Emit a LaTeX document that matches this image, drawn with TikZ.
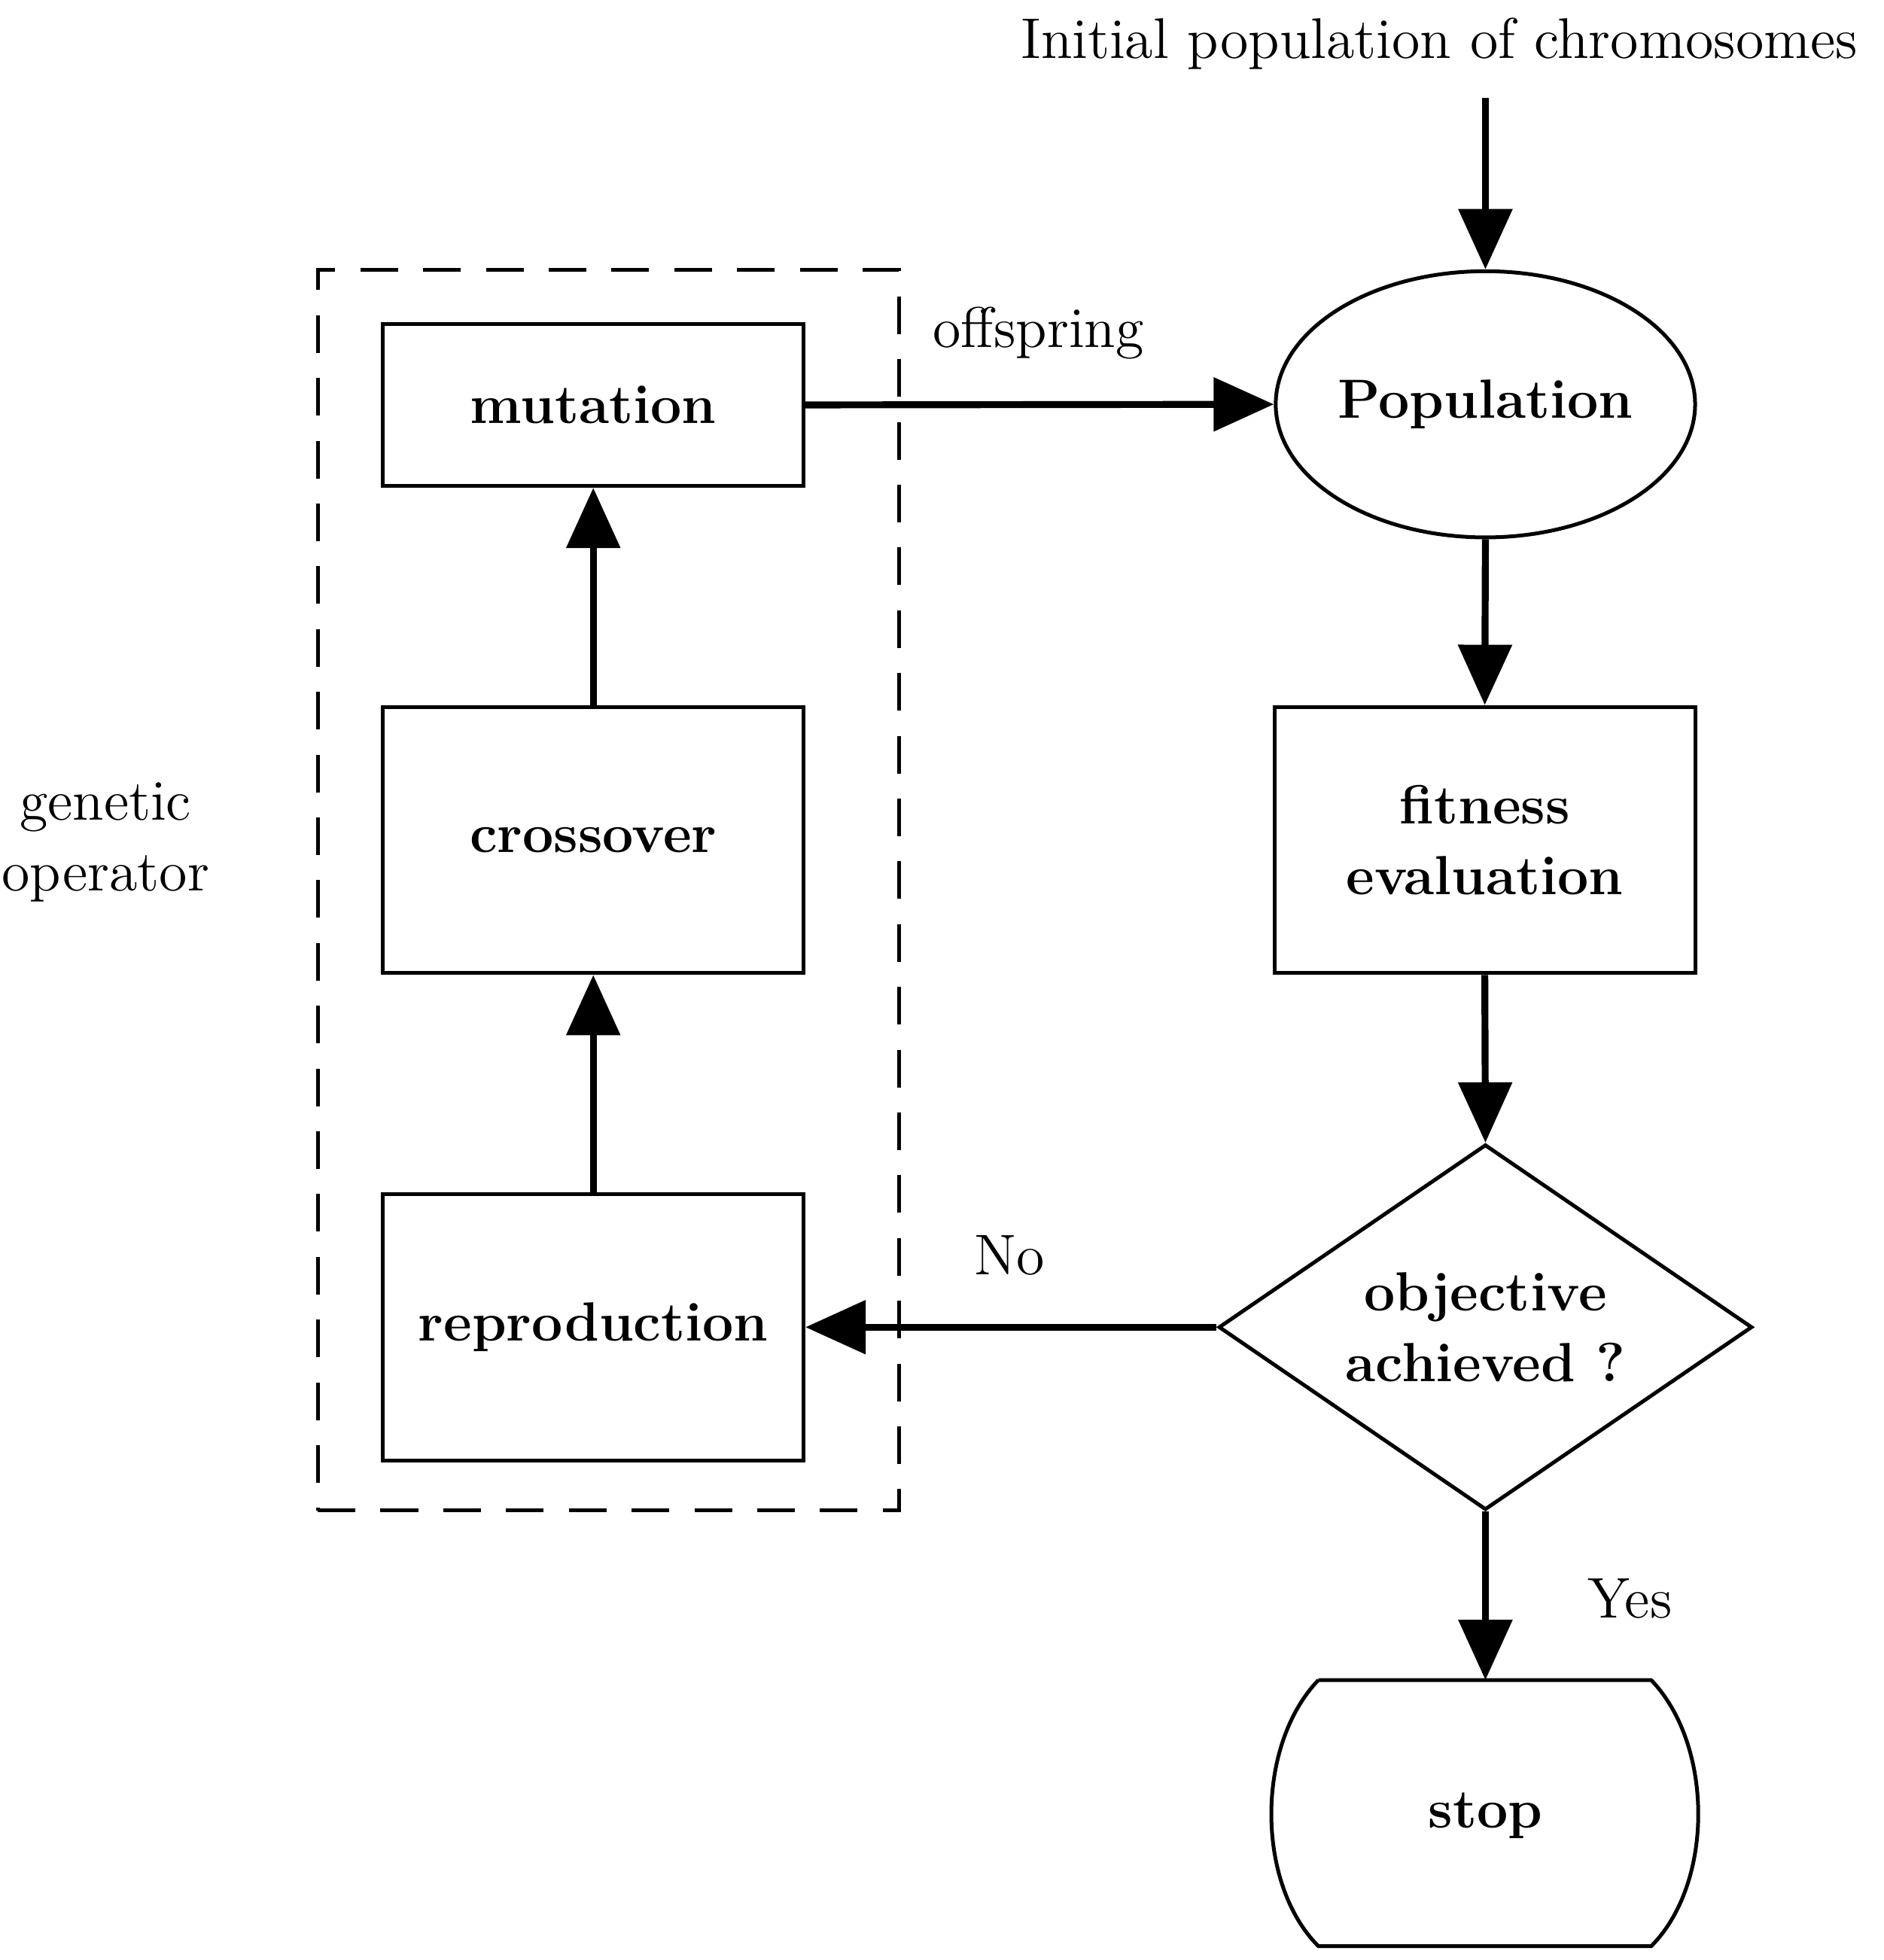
\documentclass[tikz,border=0pt]{standalone}
\usetikzlibrary{shapes.geometric,arrows.meta}
\begin{document}
\begin{tikzpicture}[x=0.1mm,y=-0.1mm,
  every node/.style={font=\fontsize{13}{16}\selectfont},
  bf/.style={font=\fontsize{12.5}{16}\selectfont\bfseries},
  box/.style={draw,line width=0.3mm,minimum width=33.5mm,align=center,bf},
  arr/.style={line width=0.55mm,-{Triangle[length=4.8mm,width=4.2mm]}}]
\useasboundingbox (0,0) rectangle (1500,1561);
\node[anchor=east] (init) at (1492,35) {Initial population of chromosomes};
\coordinate (initEnd) at (1183,78);
\node[draw,ellipse,line width=0.3mm,inner sep=0pt,minimum width=33.4mm,minimum height=21.2mm,bf] (pop) at (1183,322) {Population};
\node[box,minimum height=12.9mm] (mut) at (472.5,322.5) {mutation};
\node[box,minimum height=21.2mm] (cross) at (472.5,669) {crossover};
\node[box,minimum height=21.2mm] (rep) at (472.5,1057) {reproduction};
\node[box,minimum height=21.2mm] (fit) at (1182.5,669) {fitness\\evaluation};
\node[draw,diamond,line width=0.3mm,aspect=1.46,minimum width=42.5mm,minimum height=29.1mm,inner sep=0pt,align=center,bf] (obj) at (1183,1057) {objective\\achieved ?};
\node[bf] (stop) at (1183,1446) {stop};
\coordinate (stopTop) at (1183,1338);
\draw[line width=0.3mm] (1050,1338) -- (1315,1338) .. controls (1365,1390) and (1365,1500) .. (1315,1550) -- (1050,1550) .. controls (1000,1500) and (1000,1390) .. (1050,1338);
\node[draw,dashed,line width=0.3mm,dash pattern=on 3mm off 2mm,minimum width=46.3mm,minimum height=98.8mm] (grp) at (484.5,709) {};
\node (offs) at (827,265) {offspring};
\node (no) at (804,1000) {No};
\node (yes) at (1298,1273) {Yes};
\node[align=center] (gen) at (84,671) {genetic\\operator};
\draw[arr] (initEnd) -- (pop.north);
\draw[arr] (pop.south) -- (fit.north);
\draw[arr] (fit.south) -- (obj.north);
\draw[arr] (obj.south) -- (stopTop);
\draw[arr] (obj.west) -- (rep.east);
\draw[arr] (rep.north) -- (cross.south);
\draw[arr] (cross.north) -- (mut.south);
\draw[arr] (mut.east) -- (pop.west);
\end{tikzpicture}
\end{document}
